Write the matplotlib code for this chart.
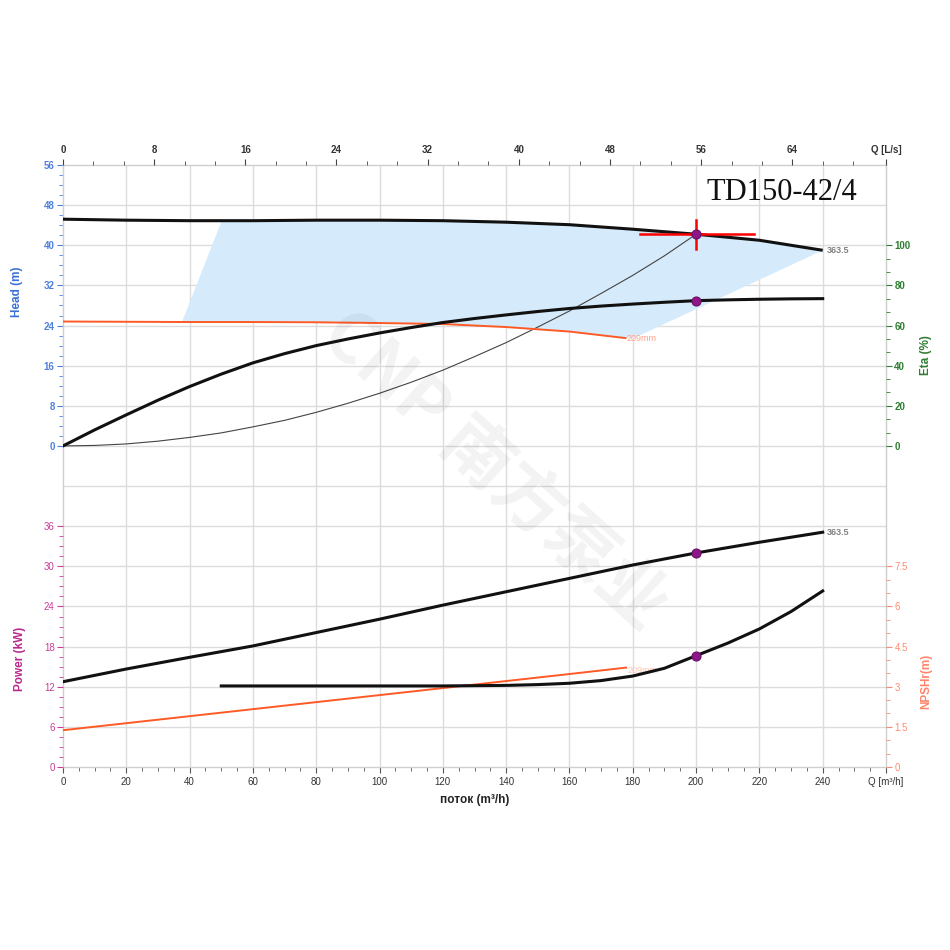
import matplotlib
matplotlib.use('Agg')
import matplotlib.pyplot as plt
import numpy as np

plt.rcParams['font.family'] = ['Liberation Sans', 'DejaVu Sans']

# ---------------- data ----------------
# Head curve, full impeller (363.5)
q_head = [0, 20, 40, 60, 80, 100, 120, 140, 160, 180, 200, 220, 240]
h_max = [45.2, 45.0, 44.9, 44.9, 45.0, 45.0, 44.9, 44.6, 44.1, 43.2, 42.2, 41.0, 39.0]

# Head curve, reduced impeller (209mm)
q_min = [0, 20, 40, 60, 80, 100, 120, 140, 160, 177.7]
h_min = [24.8, 24.75, 24.7, 24.7, 24.65, 24.5, 24.3, 23.7, 22.8, 21.5]

# Efficiency curve (%)
q_eta = [0, 10, 20, 30, 40, 50, 60, 70, 80, 90, 100, 110, 120, 130, 140, 150,
         160, 170, 180, 190, 200, 210, 220, 230, 240]
eta = [0, 8.0, 15.5, 22.8, 29.6, 35.8, 41.4, 46.0, 50.0, 53.3, 56.3, 59.0, 61.5,
       63.5, 65.3, 67.0, 68.5, 69.7, 70.7, 71.6, 72.4, 72.8, 73.1, 73.3, 73.4]

# System curve (thin line)
q_sys = [0, 10, 20, 30, 40, 50, 60, 70, 80, 90, 100, 110, 120, 130, 140, 150,
         160, 170, 180, 190, 200]
h_sys = [0, 0.1, 0.4, 0.95, 1.7, 2.6, 3.8, 5.1, 6.7, 8.5, 10.5, 12.7, 15.1,
         17.8, 20.6, 23.7, 26.9, 30.4, 34.0, 37.9, 42.2]

# Operating range region edges
region_left_q = [37.6, 50.2]
region_left_h = [24.7, 45.0]
region_right_q = [240, 181.4]
region_right_h = [39.0, 21.8]

# Power (kW)
q_pow = [0, 20, 40, 60, 80, 100, 120, 140, 160, 180, 200, 220, 240]
p_max = [12.75, 14.65, 16.4, 18.1, 20.1, 22.1, 24.2, 26.2, 28.2, 30.2, 32.0, 33.6, 35.1]
q_pow_min = [0, 40, 80, 120, 160, 177.9]
p_min = [5.5, 7.6, 9.7, 11.8, 13.9, 14.86]

# NPSHr (m)
q_npsh = [50, 60, 80, 100, 120, 140, 150, 160, 170, 180, 190, 200, 210, 220, 230, 240]
npsh = [3.03, 3.03, 3.03, 3.03, 3.03, 3.05, 3.08, 3.13, 3.23, 3.40, 3.69, 4.16,
        4.63, 5.16, 5.81, 6.58]

# Operating point
op_q, op_h, op_eta, op_p, op_npsh = 200, 42.2, 72.4, 32.0, 4.16
cross_q = [182.4, 218.2]
cross_h = [39.3, 45.1]

title = 'TD150-42/4'
dia_max_label = '363.5'
dia_min_label = '209mm'

# ---------------- colours ----------------
c_head = '#4f7fdc'
c_pow = '#c83d96'
c_eta = '#2f7d32'
c_npsh = '#ff8a6e'
c_grid = '#dcdcdc'
c_orange = '#ff5a26'
c_dot = '#8e1688'

fig = plt.figure(figsize=(9.5, 9.5), dpi=100)
ax = fig.add_axes([0.06632, 0.19263, 0.86632, 0.63368])
ax.set_xlim(0, 260)
ax.set_ylim(-64, 56)

# grid
for xv in range(20, 260, 20):
    ax.axvline(xv, color=c_grid, lw=1.0, zorder=0)
for yv in range(-56, 56, 8):
    ax.axhline(yv, color=c_grid, lw=1.0, zorder=0)

for sp in ax.spines.values():
    sp.set_color('#cfcfcf')
    sp.set_linewidth(1.0)

# bottom ticks
ax.set_xticks(list(range(0, 241, 20)) + [260])
ax.set_xticklabels([str(v) for v in range(0, 241, 20)] + ['Q [m³/h]'])
ax.set_xticks([v for v in range(0, 256, 5) if v % 20], minor=True)
ax.tick_params(axis='x', which='both', colors='#555555', labelcolor='#333333',
               labelsize=7, direction='out', pad=3)
ax.tick_params(axis='x', which='major', length=4)
ax.tick_params(axis='x', which='minor', length=3)
ax.get_xticklines()[-2].set_visible(False)

# head ticks (left)
ax.set_yticks(range(0, 57, 8))
ax.set_yticks([v for v in range(0, 57, 2) if v % 8], minor=True)
ax.tick_params(axis='y', which='both', colors=c_head, labelsize=7, pad=2)
ax.tick_params(axis='y', which='major', length=4)
ax.tick_params(axis='y', which='minor', length=3)
for t in ax.get_yticklabels():
    t.set_fontweight('bold')

# operating region
top_q = [region_left_q[1]] + [q for q in q_head if q > region_left_q[1]]
top_h = [region_left_h[1]] + [h for q, h in zip(q_head, h_max) if q > region_left_q[1]]
bot_q = [q for q in q_min if q > region_left_q[0]][::-1]
bot_h = [h for q, h in zip(q_min, h_min) if q > region_left_q[0]][::-1]
poly_q = [region_left_q[0]] + top_q + region_right_q[1:] + bot_q
poly_h = [region_left_h[0]] + top_h + region_right_h[1:] + bot_h
ax.fill(poly_q, poly_h, color='#d5ebfb', lw=0, zorder=1)

# head curves
ax.plot(q_sys, h_sys, color='#444444', lw=0.8, zorder=3)
ax.plot(q_min, h_min, color=c_orange, lw=1.4, zorder=3)
ax.plot(q_head, h_max, color='#111111', lw=2.2, zorder=4, solid_capstyle='butt')
ax.plot(cross_q, [op_h, op_h], color='#ff0000', lw=1.8, zorder=5)
ax.plot([op_q, op_q], cross_h, color='#ff0000', lw=1.8, zorder=5)
ax.plot([op_q], [op_h], 'o', color=c_dot, ms=6.5, mec='#6a0f66', mew=0.8, zorder=6)
ax.annotate(dia_max_label, (q_head[-1], h_max[-1]), xytext=(3, 0),
            textcoords='offset points', va='center', ha='left',
            fontsize=6.5, fontweight='bold', color='#808080')
ax.annotate(dia_min_label, (q_min[-1], h_min[-1]), xytext=(1, 0),
            textcoords='offset points', va='center', ha='left',
            fontsize=6.5, color='#ffa08c')

ax.text(0.965, 0.955, title, transform=ax.transAxes, ha='right', va='center',
        fontsize=22, family='Liberation Serif', color='#111111')

# top axis L/s
axT = ax.twiny()
axT.set_xlim(0, 260 / 3.6)
axT.set_xticks(list(range(0, 65, 8)) + [260 / 3.6])
axT.set_xticklabels([str(v) for v in range(0, 65, 8)] + ['Q [L/s]'])
axT.set_xticks([k * 8 / 3 for k in range(0, 27) if k % 3], minor=True)
axT.tick_params(axis='x', which='both', colors='#444444', labelcolor='#333333',
                labelsize=7, pad=3)
axT.tick_params(axis='x', which='major', length=4)
axT.tick_params(axis='x', which='minor', length=3)
axT.get_xticklines()[-2].set_visible(False)
for t in axT.get_xticklabels():
    t.set_fontweight('bold')
for sp in axT.spines.values():
    sp.set_visible(False)

# eta axis (right)
axE = ax.twinx()
axE.set_ylim(-160, 140)
axE.set_yticks(range(0, 101, 20))
axE.set_yticks([k * 20 / 3 for k in range(0, 16) if k % 3], minor=True)
axE.tick_params(axis='y', which='both', colors=c_eta, labelsize=7, pad=2)
axE.tick_params(axis='y', which='major', length=4)
axE.tick_params(axis='y', which='minor', length=3)
for t in axE.get_yticklabels():
    t.set_fontweight('bold')
for sp in axE.spines.values():
    sp.set_visible(False)
axE.plot(q_eta, eta, color='#111111', lw=2.2, zorder=4)
axE.plot([op_q], [op_eta], 'o', color=c_dot, ms=6.5, mec='#6a0f66', mew=0.8, zorder=6)

# power axis (left, lower part)
axP = ax.twinx()
axP.yaxis.tick_left()
axP.set_ylim(0, 90)
axP.set_yticks(range(0, 37, 6))
axP.set_yticks([k * 1.5 for k in range(0, 25) if k % 4], minor=True)
axP.tick_params(axis='y', which='both', colors=c_pow, labelsize=7, pad=2)
axP.tick_params(axis='y', which='major', length=4)
axP.tick_params(axis='y', which='minor', length=3)
for sp in axP.spines.values():
    sp.set_visible(False)
axP.plot(q_pow_min, p_min, color=c_orange, lw=1.4, zorder=3)
axP.plot(q_pow, p_max, color='#111111', lw=2.2, zorder=4)
axP.plot([op_q], [op_p], 'o', color=c_dot, ms=6.5, mec='#6a0f66', mew=0.8, zorder=6)
axP.annotate(dia_max_label, (q_pow[-1], p_max[-1]), xytext=(3, 0),
             textcoords='offset points', va='center', ha='left',
             fontsize=6.5, fontweight='bold', color='#808080')
axP.annotate(dia_min_label, (q_pow_min[-1], p_min[-1]), xytext=(1, -2),
             textcoords='offset points', va='center', ha='left',
             fontsize=6.5, color='#ffc4b4')

# NPSH axis (right, lower part)
axN = ax.twinx()
axN.set_ylim(0, 22.5)
axN.set_yticks([0, 1.5, 3, 4.5, 6, 7.5])
axN.set_yticklabels(['0', '1.5', '3', '4.5', '6', '7.5'])
axN.set_yticks([k * 0.5 for k in range(0, 16) if k % 3], minor=True)
axN.tick_params(axis='y', which='both', colors=c_npsh, labelsize=7, pad=2)
axN.tick_params(axis='y', which='major', length=4)
axN.tick_params(axis='y', which='minor', length=3)
for sp in axN.spines.values():
    sp.set_visible(False)
axN.plot(q_npsh, npsh, color='#111111', lw=2.2, zorder=4)
axN.plot([op_q], [op_npsh], 'o', color=c_dot, ms=6.5, mec='#6a0f66', mew=0.8, zorder=6)

# axis titles
fig.text(17 / 950, 1 - 292 / 950, 'Head (m)', rotation=90, ha='center', va='center',
         fontsize=8.5, fontweight='bold', color='#3b6fd6')
fig.text(20 / 950, 1 - 659 / 950, 'Power (kW)', rotation=90, ha='center', va='center',
         fontsize=8.5, fontweight='bold', color='#b82a8c')
fig.text(926 / 950, 1 - 355 / 950, 'Eta (%)', rotation=90, ha='center', va='center',
         fontsize=8.5, fontweight='bold', color='#2f7d32')
fig.text(926 / 950, 1 - 681 / 950, 'NPSHr(m)', rotation=90, ha='center', va='center',
         fontsize=8.5, fontweight='bold', color='#ff8468')
fig.text(475 / 950, 1 - 800 / 950, 'поток (m³/h)', ha='center', va='center',
         fontsize=8.5, fontweight='bold', color='#222222')

# watermark
fig.text(495 / 950, 1 - 470 / 950, 'CNP 南方泵业', rotation=-42, ha='center', va='center',
         fontsize=50, fontweight='bold', color='#000000', alpha=0.05,
         family=['Noto Sans CJK SC', 'DejaVu Sans'])

fig.savefig('out.png', dpi=100)
